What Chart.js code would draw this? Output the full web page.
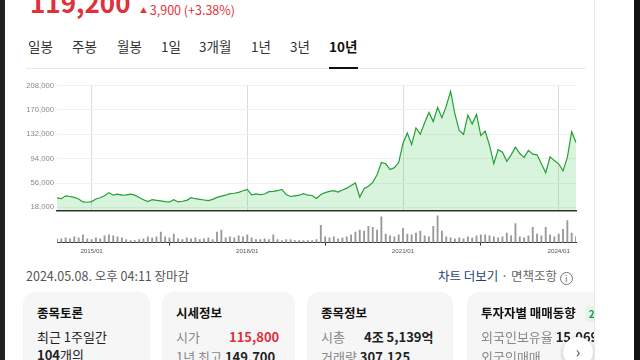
<!DOCTYPE html>
<html>
<head>
<meta charset="utf-8">
<script src="https://cdn.jsdelivr.net/npm/chart.js@4.4.1/dist/chart.umd.min.js"></script>
<style>
  html, body { margin: 0; padding: 0; }
  body { width: 640px; height: 360px; overflow: hidden; background: #fff; position: relative;
         font-family: "Noto Sans CJK KR", "Noto Sans", sans-serif; color: #222; }
  .t { position: absolute; white-space: nowrap; }
  .tab { position: absolute; top: 36px; line-height: 20px; font-size: 13.5px; color: #333; }
  .card { position: absolute; top: 292px; height: 90px; background: #f6f6f7; border-radius: 12px; }
  .card .h { position: absolute; left: 14px; top: 13px; font-size: 12.5px; font-weight: bold; line-height: 16px; color: #111; white-space: nowrap; }
  .card .r { position: absolute; left: 14px; font-size: 13px; line-height: 18px; color: #222; white-space: nowrap; }
  .gray { color: #888; }
  canvas { position: absolute; left: 0; }
</style>
</head>
<body>
<div class="t" style="left:0;top:0;width:5px;height:360px;background:#202124"></div>
<div class="t" style="left:634px;top:0;width:6px;height:360px;background:#111"></div>
<div class="t" style="left:594px;top:0;width:1px;height:360px;background:#e6e6e6"></div>

<div class="t" style="left:30px;top:-13px;font-size:26px;line-height:30px;font-weight:bold;color:#e0303a">119,200</div>
<div class="t" style="left:140px;top:2px;font-size:12.5px;line-height:16px;color:#e0353b"><span style="font-size:7px;vertical-align:2px">▲</span> 3,900 (+3.38%)</div>

<div class="tab" style="left:28px">일봉</div>
<div class="tab" style="left:72px">주봉</div>
<div class="tab" style="left:117px">월봉</div>
<div class="tab" style="left:161px">1일</div>
<div class="tab" style="left:199px">3개월</div>
<div class="tab" style="left:251px">1년</div>
<div class="tab" style="left:290px">3년</div>
<div class="tab" style="left:329px;font-weight:bold;color:#111">10년</div>
<div class="t" style="left:26px;top:68px;width:560px;height:1px;background:#e8e8e8"></div>
<div class="t" style="left:329px;top:67px;width:29px;height:2px;background:#111"></div>

<canvas id="price" width="590" height="140" style="top:78px"></canvas>
<canvas id="volume" width="590" height="48" style="top:212px"></canvas>

<div class="t" style="left:26px;top:267px;font-size:12.5px;line-height:18px;color:#555">2024.05.08. 오후 04:11 장마감</div>
<div class="t" style="left:438px;top:267px;font-size:12.5px;line-height:18px;color:#666"><span style="color:#23437a">차트 더보기</span> · 면책조항 <span style="display:inline-block;width:11px;height:11px;border:1px solid #777;border-radius:50%;font-size:9px;line-height:11px;text-align:center;vertical-align:-1px">i</span></div>

<div class="t" style="left:0;top:0;width:594px;height:360px;overflow:hidden">
  <div class="card" style="left:23px;width:127px">
    <div class="h">종목토론</div>
    <div class="r" style="top:36px">최근 1주일간</div>
    <div class="r" style="top:54px"><b>104</b>개의</div>
  </div>
  <div class="card" style="left:162px;width:133px">
    <div class="h">시세정보</div>
    <div class="r" style="top:36px"><span class="gray">시가</span><b style="position:absolute;left:53px;color:#e0303a">115,800</b></div>
    <div class="r" style="top:56px"><span class="gray">1년 최고</span> <b>149,700</b></div>
  </div>
  <div class="card" style="left:307px;width:146px">
    <div class="h">종목정보</div>
    <div class="r" style="top:36px"><span class="gray">시총</span><b style="position:absolute;left:43px">4조 5,139억</b></div>
    <div class="r" style="top:56px"><span class="gray">거래량</span> <b>307,125</b></div>
  </div>
  <div class="card" style="left:467px;width:150px">
    <div class="h">투자자별 매매동향 <span style="display:inline-block;margin-left:6px;padding:0 4px;background:#e3f5e8;color:#1a9a4a;border-radius:4px;font-size:10px">24</span></div>
    <div class="r" style="top:36px"><span class="gray">외국인보유율</span> <b>15.069%</b></div>
    <div class="r" style="top:56px"><span class="gray">외국인매매</span></div>
  </div>
  <div class="t" style="left:563px;top:337px;width:30px;height:30px;border-radius:50%;background:#fff;box-shadow:0 1px 4px rgba(0,0,0,0.25);text-align:center;line-height:28px;font-size:16px;color:#555">›</div>
</div>

<script>
const months = [
  '2014/05', '2014/06', '2014/07', '2014/08', '2014/09', '2014/10', '2014/11', '2014/12',
  '2015/01', '2015/02', '2015/03', '2015/04', '2015/05', '2015/06', '2015/07', '2015/08', '2015/09', '2015/10', '2015/11', '2015/12',
  '2016/01', '2016/02', '2016/03', '2016/04', '2016/05', '2016/06', '2016/07', '2016/08', '2016/09', '2016/10', '2016/11', '2016/12',
  '2017/01', '2017/02', '2017/03', '2017/04', '2017/05', '2017/06', '2017/07', '2017/08', '2017/09', '2017/10', '2017/11', '2017/12',
  '2018/01', '2018/02', '2018/03', '2018/04', '2018/05', '2018/06', '2018/07', '2018/08', '2018/09', '2018/10', '2018/11', '2018/12',
  '2019/01', '2019/02', '2019/03', '2019/04', '2019/05', '2019/06', '2019/07', '2019/08', '2019/09', '2019/10', '2019/11', '2019/12',
  '2020/01', '2020/02', '2020/03', '2020/04', '2020/05', '2020/06', '2020/07', '2020/08', '2020/09', '2020/10', '2020/11', '2020/12',
  '2021/01', '2021/02', '2021/03', '2021/04', '2021/05', '2021/06', '2021/07', '2021/08', '2021/09', '2021/10', '2021/11', '2021/12',
  '2022/01', '2022/02', '2022/03', '2022/04', '2022/05', '2022/06', '2022/07', '2022/08', '2022/09', '2022/10', '2022/11', '2022/12',
  '2023/01', '2023/02', '2023/03', '2023/04', '2023/05', '2023/06', '2023/07', '2023/08', '2023/09', '2023/10', '2023/11', '2023/12',
  '2024/01', '2024/02', '2024/03', '2024/04', '2024/05'
]

// close price, won
const prices = [
  32700, 31600, 36000, 35000, 33500, 31000, 26500, 26000,
  27000, 31000, 33000, 36000, 41000, 37000, 38500, 37000, 37500, 38500, 37000, 33500,
  30000, 27000, 30000, 29000, 28000, 27000, 26500, 30000, 26500, 27500, 29000, 33000,
  31500, 30500, 29500, 28500, 30500, 33500, 35500, 37000, 39500, 40000, 41500, 44000,
  46000, 37500, 39000, 38000, 38800, 42500, 43000, 44000, 46000, 38000, 35000, 36000,
  37000, 39500, 37000, 36500, 32000, 38000, 41000, 43000, 44000, 42000, 45000, 48000,
  52000, 56000, 34000, 47000, 51000, 57000, 69000, 88000, 86000, 77000, 80000, 88000,
  118000, 134000, 116000, 142000, 132000, 150000, 166000, 152000, 174000, 158000, 176000, 199000,
  164000, 138000, 132000, 162000, 148000, 163000, 130000, 137000, 115000, 86000, 108000, 104000,
  90000, 100000, 112000, 102000, 96000, 107000, 101000, 100000, 86000, 72000, 97000, 91000,
  86000, 75000, 96000, 136000, 119200
]

// volume, relative units
const volumes = [
  4, 4, 5, 4, 6, 5, 8, 4,
  3, 5, 4, 7, 8, 7, 6, 5, 3, 2, 2, 3,
  4, 6, 5, 6, 11, 6, 5, 9, 4, 3, 5, 4,
  5, 3, 4, 5, 3, 11, 13, 5, 6, 5, 7, 6,
  8, 5, 3, 3, 4, 3, 8, 3, 2, 3, 3, 2,
  2, 2, 2, 2, 3, 18, 6, 5, 6, 4, 5, 6,
  8, 11, 13, 12, 17, 16, 13, 27, 9, 7, 6, 8,
  15, 9, 8, 10, 12, 7, 6, 17, 28, 12, 6, 5,
  4, 5, 4, 6, 5, 7, 8, 8, 7, 6, 5, 6,
  10, 7, 20, 6, 5, 7, 16, 9, 7, 16, 8, 6,
  9, 14, 23, 10, 6
]

const priceTicks = [18000, 56000, 94000, 132000, 170000, 208000]
const yearTicks = ['2015/01', '2018/01', '2021/01', '2024/01']

const keepYears = (s) => {
  s.ticks = s.ticks.filter((t) => yearTicks.includes(months[t.value]))
}

new Chart(document.getElementById('price'), {
  type: 'line',
  data: {
    labels: months,
    datasets: [
      {
        data: prices,
        borderColor: '#23a034',
        borderWidth: 1.2,
        backgroundColor: 'rgba(60, 200, 80, 0.2)',
        fill: 'start',
        pointRadius: 0,
        tension: 0,
      },
    ],
  },
  options: {
    responsive: false,
    animation: false,
    layout: {padding: {top: 4, right: 14, bottom: 2, left: 0}},
    plugins: {legend: {display: false}, tooltip: {enabled: false}},
    scales: {
      x: {
        afterBuildTicks: keepYears,
        ticks: {display: false, autoSkip: false},
        grid: {color: '#dcdcdc', drawTicks: false},
        border: {color: '#333', width: 1.5},
      },
      y: {
        min: 13300,
        max: 208000,
        afterBuildTicks: (s) => {
          s.ticks = priceTicks.map((v) => ({value: v}))
        },
        afterFit: (s) => {
          s.width = 57
        },
        ticks: {
          font: {family: 'Liberation Sans', size: 7.7},
          color: '#888',
          padding: 3,
          callback: (v) => v.toLocaleString('en-US'),
        },
        grid: {color: '#f1f1f1', drawTicks: false},
        border: {display: false},
      },
    },
  },
})

new Chart(document.getElementById('volume'), {
  type: 'bar',
  data: {
    labels: months,
    datasets: [{data: volumes, backgroundColor: '#999', barThickness: 1.2}],
  },
  options: {
    responsive: false,
    animation: false,
    layout: {padding: {top: 2, right: 14, bottom: 3, left: 0}},
    plugins: {legend: {display: false}, tooltip: {enabled: false}},
    scales: {
      x: {
        offset: false,
        afterBuildTicks: keepYears,
        ticks: {
          autoSkip: false,
          maxRotation: 0,
          font: {family: 'Liberation Sans', size: 6.2},
          color: '#555',
          padding: 2,
        },
        grid: {drawOnChartArea: false, tickLength: 3, color: '#333'},
        border: {color: '#333', width: 1},
      },
      y: {
        min: 0,
        max: 30,
        ticks: {display: false},
        grid: {display: false},
        border: {display: false},
        afterFit: (s) => {
          s.width = 57
        },
      },
    },
  },
})
</script>
</body>
</html>
